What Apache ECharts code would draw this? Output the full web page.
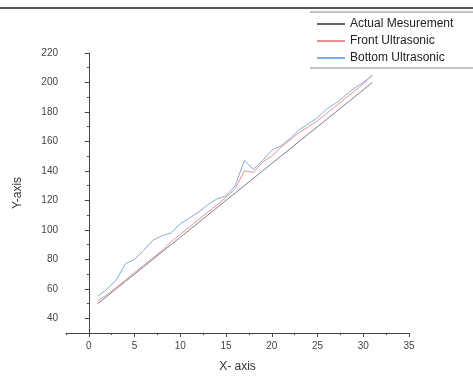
<!DOCTYPE html>
<html><head><meta charset="utf-8">
<script src="https://cdn.jsdelivr.net/npm/echarts@6/dist/echarts.min.js"></script>
<style>html,body{margin:0;padding:0;background:#fff}#c{width:473px;height:378px}</style>
</head><body><div id="c"></div>
<script>
const xs = [1,2,3,4,5,6,7,8,9,10,11,12,13,14,15,16,17,18,19,20,21,22,23,24,25,26,27,28,29,30,31];
const actual = [50,55,60,65,70,75,80,85,90,95,100,105,110,115,120,125,130,135,140,145,150,155,160,165,170,175,180,185,190,195,200];
const front = [52,56,61,66,71,76,81,86,92,97,102,107,112,117,122,128,140,139,146,150,156,161,166,170,174,179,184,189,194,199,205];
const bottom = [55,60,66,77,80,86,93,96,98,104,108,112,117,121,123,130,147,141,147,154,157,162,168,172,176,182,186,191,196,200,205];
const xLabels = [0,5,10,15,20,25,30,35];
const yLabels = [40,60,80,100,120,140,160,180,200,220];

const chart = echarts.init(document.getElementById('c'));
const font = 'Liberation Sans, Arial, sans-serif';
const pair = a => xs.map((x,i)=>[x,a[i]]);
chart.setOption({
  animation:false,
  textStyle:{fontFamily:font},
  grid:{left:66,right:64,top:53,bottom:45},
  legend:{
    orient:'vertical', left:312, top:13, itemGap:5,
    itemWidth:28, itemHeight:2, icon:'rect',
    textStyle:{fontSize:12,color:'#222',fontFamily:font},
    data:['Actual Mesurement','Front Ultrasonic','Bottom Ultrasonic']
  },
  xAxis:[{
    type:'value', min:-2.5, max:35,
    name:'X- axis', nameLocation:'middle', nameGap:28, nameTextStyle:{fontSize:12,color:'#333'},
    axisLine:{lineStyle:{color:'#444',width:1}},
    axisTick:{customValues:xLabels,length:4,inside:false,lineStyle:{color:'#444'}},
    axisLabel:{customValues:xLabels,fontSize:10,color:'#444',margin:8},
    splitLine:{show:false}
  },{
    type:'value', min:-2.5, max:35, interval:2.5, position:'bottom',
    axisLine:{show:false}, axisLabel:{show:false},
    axisTick:{length:2,lineStyle:{color:'#444'}}, splitLine:{show:false}
  }],
  yAxis:[{
    type:'value', min:30, max:220,
    name:'Y-axis', nameLocation:'middle', nameGap:42, nameTextStyle:{fontSize:12,color:'#333'},
    axisLine:{show:true,lineStyle:{color:'#444',width:1}},
    axisTick:{show:true,customValues:yLabels,length:4,lineStyle:{color:'#444'}},
    axisLabel:{customValues:yLabels,fontSize:10,color:'#444',margin:8},
    splitLine:{show:false}
  },{
    type:'value', min:30, max:220, interval:10, position:'left',
    axisLine:{show:false}, axisLabel:{show:false},
    axisTick:{show:true,length:2,lineStyle:{color:'#444'}}, splitLine:{show:false}
  }],
  graphic:[
    {type:'line',shape:{x1:0,y1:8,x2:473,y2:8},style:{stroke:'#555',lineWidth:2}},
    {type:'line',shape:{x1:310,y1:12,x2:473,y2:12},style:{stroke:'#888',lineWidth:1}},
    {type:'line',shape:{x1:310,y1:68,x2:473,y2:68},style:{stroke:'#888',lineWidth:1}}
  ],
  series:[
    {name:'Actual Mesurement',type:'line',data:pair(actual),showSymbol:false,lineStyle:{width:1,color:'#7a7a95'},itemStyle:{color:'#666'}},
    {name:'Front Ultrasonic',type:'line',data:pair(front),showSymbol:false,lineStyle:{width:1,color:'#e89090'},itemStyle:{color:'#e89090'}},
    {name:'Bottom Ultrasonic',type:'line',data:pair(bottom),showSymbol:false,lineStyle:{width:1,color:'#80aede'},itemStyle:{color:'#80aede'}}
  ]
});
</script></body></html>
